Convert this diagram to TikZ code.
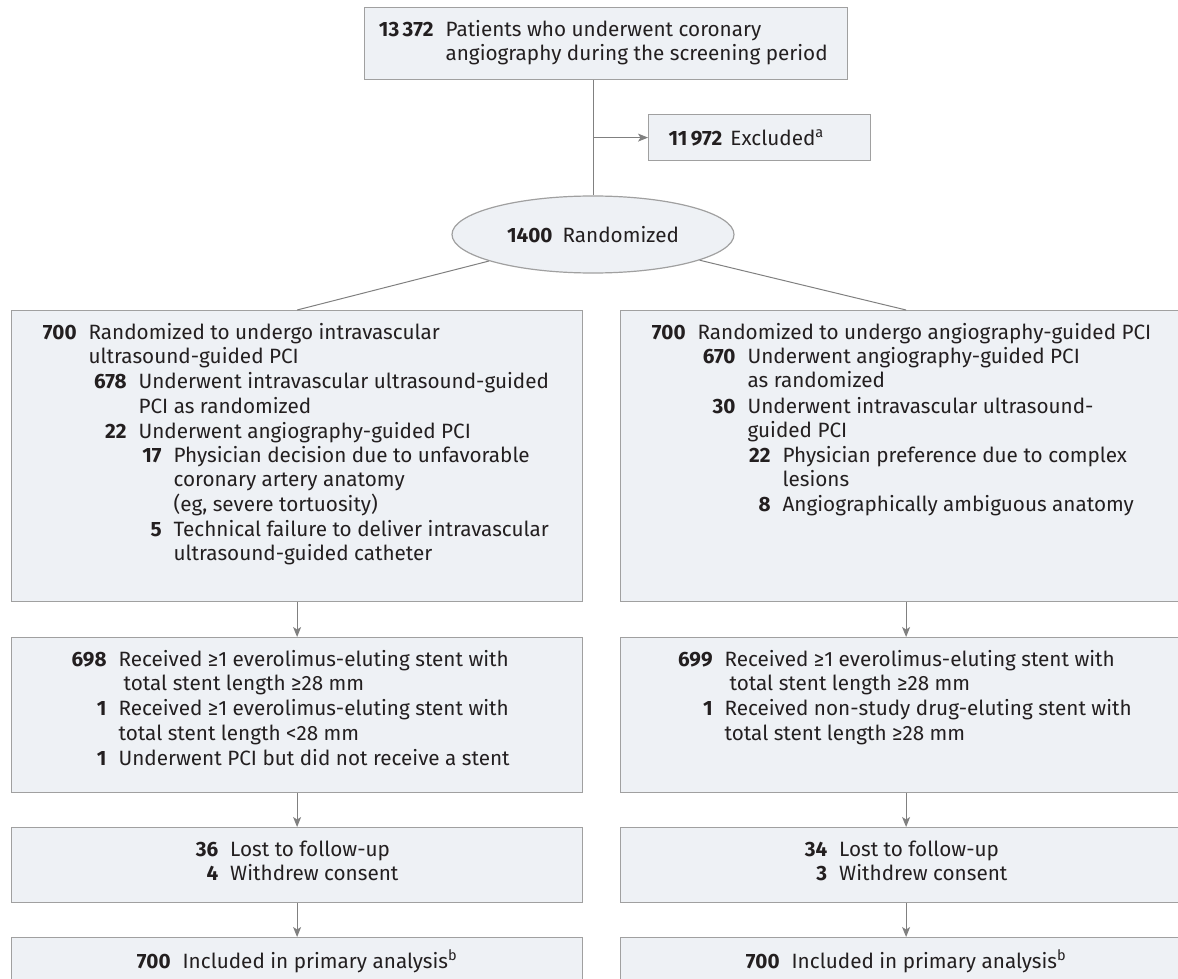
\documentclass[tikz,border=0pt]{standalone}
\usepackage{fontspec}
\setmainfont{Fira Sans}
\usetikzlibrary{shapes.geometric,arrows.meta}
\definecolor{boxfill}{RGB}{238,241,245}
\definecolor{framegray}{RGB}{160,160,160}
\definecolor{linkgray}{RGB}{128,128,128}
\definecolor{inkdark}{RGB}{35,31,32}
\newcommand{\panel}[3]{\begin{minipage}[t][#2][t]{#1}\vspace*{12pt}#3\end{minipage}}
\newcommand{\itm}[3]{\noindent\hspace*{#1}\llap{\textbf{#2}}\hspace{12pt}\begin{tabular}[t]{@{}l@{}}#3\end{tabular}\par}
\newcommand{\ctr}[1]{\centering\begin{tabular}[t]{@{}r@{\hspace{12pt}}l@{}}#1\end{tabular}\par}
\begin{document}
\begin{tikzpicture}[x=1pt, y=-1pt, font=\fontsize{20.7pt}{24.2pt}\selectfont, text=inkdark]
\tikzstyle{flow} = [draw=framegray, fill=boxfill, line width=1.2pt, inner sep=0pt, anchor=north west]
\tikzstyle{link} = [draw=linkgray, line width=1pt]
\tikzstyle{arr} = [link, -{Stealth[length=10pt, width=8pt, inset=2.5pt]}]
\clip (0,0) rectangle (1178,979);
\node[flow] (P) at (364,7) {\panel{483pt}{72pt}{\itm{69pt}{13\,372}{Patients who underwent coronary\\angiography during the screening period}}};
\node[flow, text width=182pt, align=left, inner xsep=20pt, minimum height=46pt] (X) at (648,114) {\textbf{11\,972}\hspace{8pt}Excluded\textsuperscript{a}};
\node[draw=framegray, fill=boxfill, line width=1.2pt, ellipse, minimum width=282pt, minimum height=77pt, inner sep=0pt] (R) at (593,234.5) {\textbf{1400}\hspace{10pt}Randomized};
\draw[link] (P.south -| R.north) -- (R.north);
\draw[arr] (R.north |- X.west) -- (X.west);
\node[flow] (I) at (11,310) {\panel{571pt}{291pt}{%
 \itm{65pt}{700}{Randomized to undergo intravascular\\ultrasound-guided PCI}%
 \itm{115pt}{678}{Underwent intravascular ultrasound-guided\\PCI as randomized}%
 \itm{115pt}{22}{Underwent angiography-guided PCI}%
 \itm{150pt}{17}{Physician decision due to unfavorable\\coronary artery anatomy\\(eg, severe tortuosity)}%
 \itm{150pt}{5}{Technical failure to deliver intravascular\\ultrasound-guided catheter}}};
\node[flow] (G) at (620,310) {\panel{571pt}{291pt}{%
 \itm{65pt}{700}{Randomized to undergo angiography-guided PCI}%
 \itm{115pt}{670}{Underwent angiography-guided PCI\\as randomized}%
 \itm{115pt}{30}{Underwent intravascular ultrasound-\\guided PCI}%
 \itm{150pt}{22}{Physician preference due to complex\\lesions}%
 \itm{150pt}{8}{Angiographically ambiguous anatomy}}};
\draw[link] (R) -- (I.north);
\draw[link] (R) -- (G.north);
\node[flow] (J) at (11,637) {\panel{571pt}{155pt}{%
 \itm{95pt}{698}{Received ≥1 everolimus-eluting stent with\\\hspace{5pt}total stent length ≥28 mm}%
 \itm{95pt}{1}{Received ≥1 everolimus-eluting stent with\\total stent length <28 mm}%
 \itm{95pt}{1}{Underwent PCI but did not receive a stent}}};
\node[flow] (H) at (620,637) {\panel{571pt}{155pt}{%
 \itm{92pt}{699}{Received ≥1 everolimus-eluting stent with\\\hspace{5pt}total stent length ≥28 mm}%
 \itm{92pt}{1}{Received non-study drug-eluting stent with\\total stent length ≥28 mm}}};
\draw[arr] (I.south) -- (J.north);
\draw[arr] (G.south) -- (H.north);
\node[flow] (K) at (11,827) {\panel{571pt}{75pt}{\ctr{\textbf{36} & Lost to follow-up\\\textbf{4} & Withdrew consent}}};
\node[flow] (M) at (620,827) {\panel{571pt}{75pt}{\ctr{\textbf{34} & Lost to follow-up\\\textbf{3} & Withdrew consent}}};
\draw[arr] (J.south) -- (K.north);
\draw[arr] (H.south) -- (M.north);
\node[flow] (L) at (11,937) {\panel{571pt}{63pt}{\ctr{\textbf{700} & Included in primary analysis\textsuperscript{b}}}};
\node[flow] (N) at (620,937) {\panel{571pt}{63pt}{\ctr{\textbf{700} & Included in primary analysis\textsuperscript{b}}}};
\draw[arr] (K.south) -- (L.north);
\draw[arr] (M.south) -- (N.north);
\end{tikzpicture}
\end{document}
